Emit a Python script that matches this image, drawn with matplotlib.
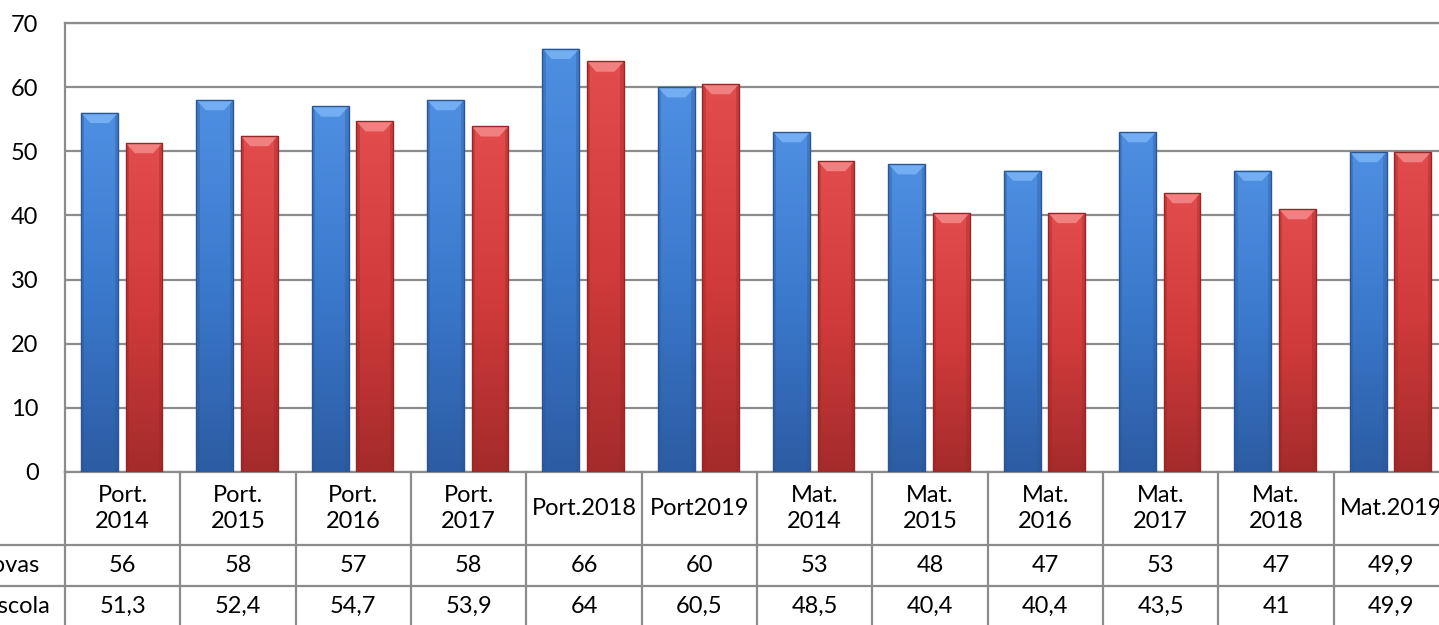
import numpy
from matplotlib import pyplot
from matplotlib.patches import Polygon
from matplotlib.colors import LinearSegmentedColormap
from matplotlib.transforms import blended_transform_factory

pyplot.rcParams['font.family'] = ['Lato', 'DejaVu Sans']

categories = ['Port.\n2014', 'Port.\n2015', 'Port.\n2016', 'Port.\n2017', 'Port.2018', 'Port2019',
              'Mat.\n2014', 'Mat.\n2015', 'Mat.\n2016', 'Mat.\n2017', 'Mat.\n2018', 'Mat.2019']
provas = [56, 58, 57, 58, 66, 60, 53, 48, 47, 53, 47, 49.9]
escola = [51.3, 52.4, 54.7, 53.9, 64, 60.5, 48.5, 40.4, 40.4, 43.5, 41, 49.9]
row_labels = ['Provas', 'Escola']
yticks = [0, 10, 20, 30, 40, 50, 60, 70]

BLUE = dict(top='#4f8fe2', mid='#3b79cd', bottom='#2c5ca3', bevel='#7ab4f6', edge='#2b5694')
RED = dict(top='#e24c4c', mid='#d23b3b', bottom='#a52b2b', bevel='#f48a8a', edge='#972626')

W, H = 1439, 625
FS = 17
fig = pyplot.figure(figsize=(W / 100, H / 100), dpi=100)
ax = fig.add_axes([65 / W, (H - 472) / H, 1384 / W, 449 / H])

x = numpy.arange(len(categories))
width = 0.32
grey = '#8c8c8c'


def _shade(ax, bars, style):
    cmap = LinearSegmentedColormap.from_list('g', [style['top'], style['mid'], style['bottom']])
    grad = numpy.linspace(0, 1, 100).reshape(-1, 1)
    for b in bars:
        x0, y0 = b.get_x(), b.get_y()
        w, h = b.get_width(), b.get_height()
        im = ax.imshow(grad, cmap=cmap, aspect='auto', extent=(x0, x0 + w, y0, y0 + h),
                       origin='upper', zorder=3)
        im.set_clip_path(b)
        # darker side strips
        s = w * 0.09
        for xs in (x0, x0 + w - s):
            ax.add_patch(Polygon([(xs, y0), (xs + s, y0), (xs + s, y0 + h), (xs, y0 + h)],
                                 closed=True, facecolor=style['edge'], alpha=0.35,
                                 edgecolor='none', zorder=4))
        # light bevel on top
        bh = 1.6
        ax.add_patch(Polygon([(x0, y0 + h), (x0 + w, y0 + h), (x0 + w - s * 2.8, y0 + h - bh),
                              (x0 + s * 2.8, y0 + h - bh)], closed=True,
                             facecolor=style['bevel'], edgecolor='none', alpha=0.85, zorder=5))
        ax.add_patch(Polygon([(x0, y0), (x0 + w, y0), (x0 + w, y0 + h), (x0, y0 + h)], closed=True,
                             facecolor='none', edgecolor=style['edge'], linewidth=1.0, zorder=6))


b1 = ax.bar(x - 0.2, provas, width, color=BLUE['mid'], zorder=2)
b2 = ax.bar(x + 0.185, escola, width, color=RED['mid'], zorder=2)
_shade(ax, b1, BLUE)
_shade(ax, b2, RED)

ax.set_xlim(-0.5, len(categories) - 0.5)
ax.set_ylim(0, 70)
ax.set_yticks(yticks)
ax.yaxis.grid(True, color=grey, linewidth=1.6, zorder=0)
ax.set_axisbelow(True)
ax.set_xticks([])
ax.tick_params(axis='y', length=0, pad=19, labelsize=FS)
for side in ['right', 'bottom']:
    ax.spines[side].set_visible(False)
for side in ['top', 'left']:
    ax.spines[side].set_color(grey)
    ax.spines[side].set_linewidth(1.6)

# data table under the plot
tr = blended_transform_factory(ax.transData, ax.transAxes)
rows_y = [0.0, -0.1626, -0.2539, -0.36]
ax.plot([-0.5, len(categories) - 0.5], [0, 0], color=grey, lw=1.6, transform=tr, clip_on=False)
for yy in rows_y[1:3]:
    ax.plot([-0.1, 1.1], [yy, yy], color=grey, lw=1.6, transform=ax.transAxes, clip_on=False)
for xv in numpy.arange(len(categories) + 1) - 0.5:
    ax.plot([xv, xv], [rows_y[0], rows_y[-1]], color=grey, lw=1.6, transform=tr, clip_on=False)

for i, cat in enumerate(categories):
    ax.text(i, -0.0813, cat, ha='center', va='center', fontsize=FS, linespacing=1.35,
            transform=tr)
    ax.text(i, -0.208, str(provas[i]).replace('.', ','), ha='center', va='center',
            fontsize=FS, transform=tr)
    ax.text(i, -0.300, str(escola[i]).replace('.', ','), ha='center', va='center',
            fontsize=FS, transform=tr)

ax.text((40 - 65) / 1384, -0.208, row_labels[0], ha='right', va='center', fontsize=FS,
        transform=ax.transAxes)
ax.text((51 - 65) / 1384, -0.300, row_labels[1], ha='right', va='center', fontsize=FS,
        transform=ax.transAxes)

fig.savefig('out.png', dpi=100)
